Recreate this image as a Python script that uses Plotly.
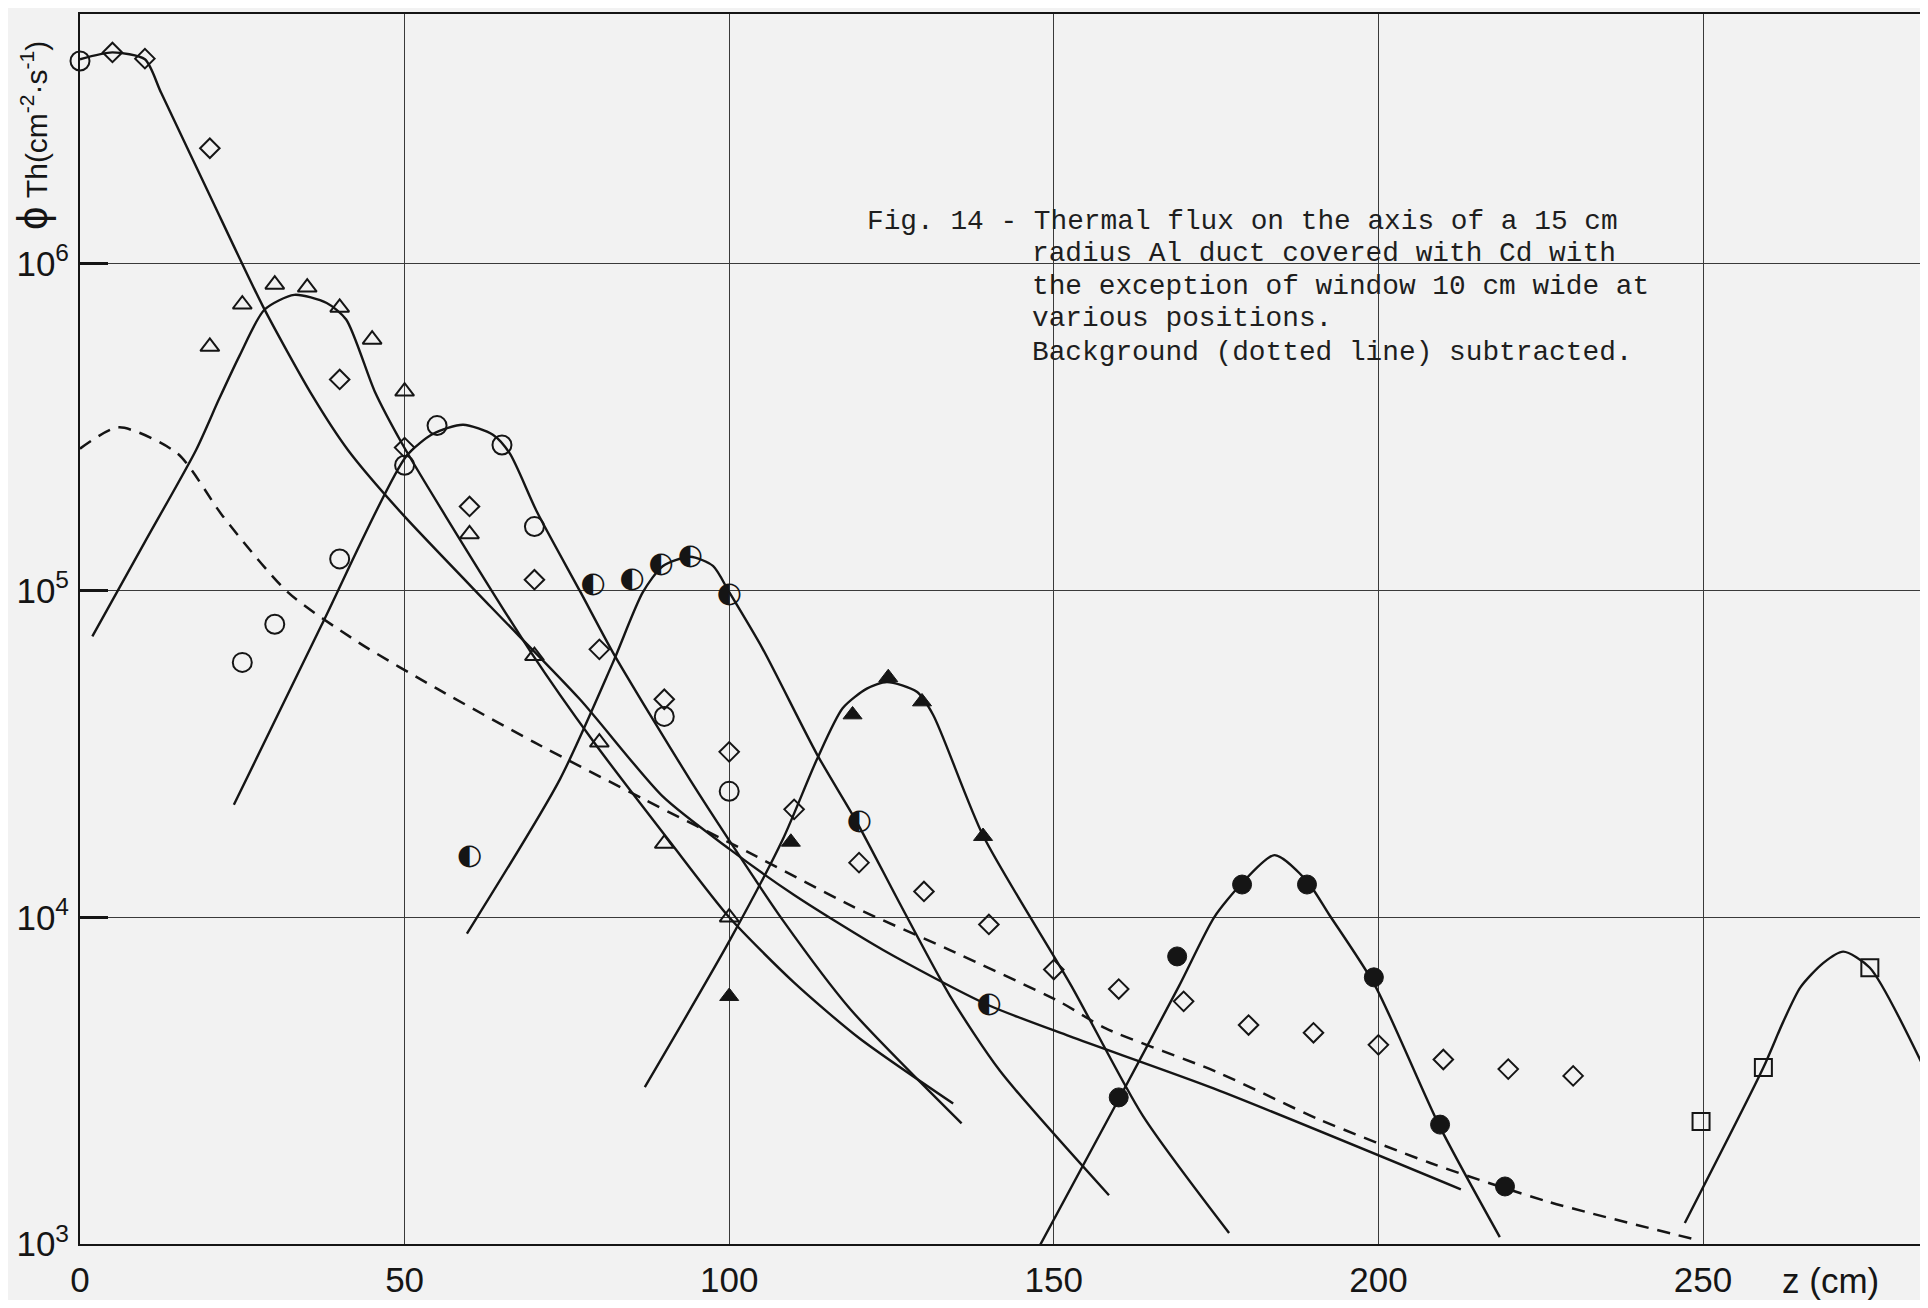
import plotly.graph_objects as go

# ---------------- data (z in cm, flux in n cm^-2 s^-1) ----------------
# fitted curves (solid), one per window position
c1_z = [0, 5, 10, 12.5, 20, 28.2, 35.7, 41.3, 49.6, 63.3, 77, 89.8, 100, 110, 123.7, 139.7, 152.5, 174.7, 212.7]
c1_flux = [4.23e6, 4.44e6, 4.23e6, 3.34e6, 1.62e6, 7.40e5, 3.98e5, 2.69e5, 1.72e5, 8.91e4, 4.65e4, 2.34e4,
           1.62e4, 1.17e4, 7.94e3, 5.41e3, 4.32e3, 2.99e3, 1.47e3]

c2_z = [1.9, 10, 17.9, 21.4, 24.6, 28.4, 33, 38, 41, 45.4, 49.6, 56.4, 69.5, 79, 90.9, 100, 110, 120, 134.5]
c2_flux = [7.24e4, 1.41e5, 2.70e5, 3.85e5, 5.25e5, 7.24e5, 8.04e5, 7.59e5, 6.76e5, 4.07e5, 2.82e5, 1.68e5,
           6.46e4, 3.47e4, 1.70e4, 1.0e4, 6.31e3, 4.27e3, 2.69e3]

c3_z = [23.7, 37.1, 50.2, 54.4, 59, 63.6, 66.2, 70.4, 77.1, 82.1, 87.8, 94, 100, 108.3, 118.6, 135.8]
c3_flux = [2.21e4, 7.76e4, 2.57e5, 3.02e5, 3.22e5, 3.00e5, 2.63e5, 1.74e5, 9.89e4, 6.46e4, 4.17e4, 2.63e4,
           1.72e4, 9.77e3, 5.25e3, 2.34e3]

c4_z = [59.6, 73.9, 82.1, 86.7, 89.8, 94, 97.5, 100, 105.2, 113.5, 119.7, 126.3, 134, 141.7, 158.5]
c4_flux = [8.91e3, 2.64e4, 6.03e4, 9.89e4, 1.19e5, 1.27e5, 1.19e5, 9.89e4, 6.61e4, 3.16e4, 1.95e4, 1.10e4,
           5.75e3, 3.39e3, 1.41e3]

c5_z = [87, 100.1, 108.3, 113.5, 117.5, 121.2, 124.3, 128.9, 131.4, 139.1, 152.7, 163.7, 177]
c5_flux = [3.02e3, 8.51e3, 1.74e4, 3.04e4, 4.37e4, 5.01e4, 5.25e4, 4.90e4, 4.17e4, 1.78e4, 6.17e3, 2.47e3, 1.08e3]

c6_z = [147.7, 159.9, 169.3, 174.7, 178.8, 184, 189, 192.4, 199.5, 209.3, 218.7]
c6_flux = [977, 2.75e3, 6.17e3, 1.0e4, 1.26e4, 1.55e4, 1.29e4, 1.02e4, 6.17e3, 2.32e3, 1.05e3]

c7_z = [247.2, 259.3, 262.3, 265, 268.5, 271.6, 275.7, 284.7]
c7_flux = [1.16e3, 3.47e3, 4.76e3, 6.10e3, 7.24e3, 7.85e3, 7.01e3, 3.25e3]

# background (dotted line)
bg_z = [0, 6, 15, 22, 32, 43, 55, 70, 87, 103, 119, 134, 151, 158, 175, 191, 208, 226, 249]
bg_flux = [2.72e5, 3.16e5, 2.63e5, 1.69e5, 9.89e4, 6.92e4, 5.01e4, 3.43e4, 2.29e4, 1.58e4, 1.08e4, 7.94e3,
           5.50e3, 4.57e3, 3.37e3, 2.40e3, 1.77e3, 1.35e3, 1.03e3]

# measured points
open_circle_z = [0, 25, 30, 40, 50, 55, 65, 70, 90, 100]
open_circle_flux = [4.18e6, 6.03e4, 7.89e4, 1.25e5, 2.42e5, 3.20e5, 2.79e5, 1.57e5, 4.12e4, 2.43e4]

open_triangle_z = [20, 25, 30, 35, 40, 45, 50, 60, 70, 80, 90, 100]
open_triangle_flux = [5.58e5, 7.52e5, 8.65e5, 8.47e5, 7.35e5, 5.87e5, 4.07e5, 1.49e5, 6.31e4, 3.43e4, 1.68e4, 1.0e4]

diamond_z = [5, 10, 20, 40, 50, 60, 70, 80, 90, 100, 110, 120, 130, 140, 150, 160, 170, 180, 190, 200, 210, 220, 230]
diamond_flux = [4.44e6, 4.25e6, 2.26e6, 4.43e5, 2.74e5, 1.81e5, 1.08e5, 6.61e4, 4.65e4, 3.21e4, 2.14e4, 1.47e4,
                1.20e4, 9.51e3, 6.92e3, 6.03e3, 5.53e3, 4.68e3, 4.43e3, 4.07e3, 3.67e3, 3.43e3, 3.27e3]

half_circle_z = [60, 79, 85, 89.5, 94, 100, 120, 140]
half_circle_flux = [1.53e4, 1.04e5, 1.08e5, 1.20e5, 1.27e5, 9.72e4, 1.96e4, 5.41e3]

filled_triangle_z = [100, 109.5, 119, 124.5, 129.7, 139.1]
filled_triangle_flux = [5.73e3, 1.70e4, 4.17e4, 5.42e4, 4.57e4, 1.77e4]

filled_circle_z = [140, 160, 169, 179, 189, 199.3, 209.5, 219.5]
filled_circle_flux = [975, 2.81e3, 7.59e3, 1.26e4, 1.26e4, 6.55e3, 2.32e3, 1.50e3]

square_z = [249.7, 259.3, 275.7]
square_flux = [2.37e3, 3.47e3, 7.01e3]

x_ticks = [0, 50, 100, 150, 200, 250]
y_ticks = [1e3, 1e4, 1e5, 1e6]
y_tick_text = ["10<sup>3</sup>", "10<sup>4</sup>", "10<sup>5</sup>", "10<sup>6</sup>"]

caption_lines = [
    "Fig. 14 - Thermal flux on the axis of a 15 cm",
    "radius Al duct covered with Cd with",
    "the exception of window 10 cm wide at",
    "various positions.",
    "Background (dotted line) subtracted.",
]

# ---------------- figure ----------------
INK = "#151515"
NARROW = "Liberation Sans Narrow, Arial Narrow, Liberation Sans, Arial, sans-serif"
fig = go.Figure()

curve_line = dict(color=INK, width=2.4, shape="spline", smoothing=0.7)
for cz, cf in [(c1_z, c1_flux), (c2_z, c2_flux), (c3_z, c3_flux), (c4_z, c4_flux),
               (c5_z, c5_flux), (c6_z, c6_flux), (c7_z, c7_flux)]:
    fig.add_trace(go.Scatter(x=cz, y=cf, mode="lines", line=curve_line,
                             hoverinfo="skip", showlegend=False))

fig.add_trace(go.Scatter(x=bg_z, y=bg_flux, mode="lines",
                         line=dict(color=INK, width=2.5, dash="13px,9px", shape="spline", smoothing=0.7),
                         hoverinfo="skip", showlegend=False))

def markers(z, f, symbol, size, lw=2):
    fig.add_trace(go.Scatter(x=z, y=f, mode="markers", cliponaxis=False, showlegend=False,
                             marker=dict(symbol=symbol, size=size, color=INK,
                                         line=dict(color=INK, width=lw))))

markers(open_circle_z, open_circle_flux, "circle-open", 19)
markers(open_triangle_z, open_triangle_flux, "triangle-up-open", 16.5)
markers(diamond_z, diamond_flux, "diamond-open", 15)
markers(filled_triangle_z, filled_triangle_flux, "triangle-up", 16.5, 1)
markers(filled_circle_z, filled_circle_flux, "circle", 19, 1)
markers(square_z, square_flux, "square-open", 17)

fig.add_trace(go.Scatter(x=half_circle_z, y=half_circle_flux, mode="text", cliponaxis=False,
                         text=["◐"] * len(half_circle_z), textposition="middle center",
                         textfont=dict(family="DejaVu Sans", size=29, color=INK),
                         showlegend=False))

# page has an 8 px body margin: size the figure so the plot area lands where the reference has it
W, H = 1912, 1292
L, T, B = 72, 6, 56
R = 0
AX_L, AX_R, AX_T, AX_B = 80, 1920, 14, 1244   # plot area in page pixels

def px(xp):
    return (xp - AX_L) / (AX_R - AX_L)

def py(yp):
    return (AX_B - yp) / (AX_B - AX_T)

annotations = []
# caption, typewriter style
cap_x = [865, 1030, 1030, 1030, 1030]
cap_y = [222, 254, 287, 319, 352]
for txt, cx, cy in zip(caption_lines, cap_x, cap_y):
    annotations.append(dict(text=txt, xref="paper", yref="paper", x=px(cx), y=py(cy),
                            xanchor="left", yanchor="middle", showarrow=False,
                            font=dict(family="Liberation Mono, DejaVu Sans Mono, monospace",
                                      size=27.8, color="#1e1e1e")))
# y axis title
annotations.append(dict(text="<span style='font-size:42px'>ϕ</span> Th(cm<sup>-2</sup>·s<sup>-1</sup>)",
                        xref="paper", yref="paper", x=px(32), y=py(136), textangle=-90,
                        xanchor="center", yanchor="middle", showarrow=False,
                        font=dict(family="Liberation Sans, Arial, sans-serif", size=30, color=INK)))
# x axis unit
annotations.append(dict(text="z (cm)", xref="paper", yref="paper", x=px(1830), y=py(1280),
                        xanchor="center", yanchor="middle", showarrow=False,
                        font=dict(family="Liberation Sans, Arial, sans-serif", size=35, color=INK)))

fig.update_layout(
    width=W, height=H,
    margin=dict(l=L, r=R, t=T, b=B, pad=0),
    paper_bgcolor="#f2f2f2", plot_bgcolor="#f2f2f2",
    showlegend=False,
    annotations=annotations,
    font=dict(family="Liberation Sans, Arial, sans-serif", color=INK),
)
fig.update_xaxes(range=[0, (AX_R - AX_L) / 6.492], tickvals=x_ticks, ticktext=[str(t) for t in x_ticks],
                 showgrid=True, gridcolor="#3a3a3a", gridwidth=1.3,
                 showline=True, linecolor=INK, linewidth=2, mirror=True,
                 zeroline=False, ticks="", ticklabelstandoff=4,
                 tickfont=dict(size=35, family=NARROW, color=INK))
fig.update_yaxes(type="log", range=[3, 6.765], tickvals=y_ticks, ticktext=y_tick_text,
                 showgrid=True, gridcolor="#3a3a3a", gridwidth=1.3,
                 showline=True, linecolor=INK, linewidth=2, mirror=False,
                 zeroline=False, ticks="inside", ticklen=28, tickwidth=2.5, tickcolor=INK,
                 ticklabelstandoff=2,
                 tickfont=dict(size=35, family=NARROW, color=INK))

fig.write_html("out.html")
